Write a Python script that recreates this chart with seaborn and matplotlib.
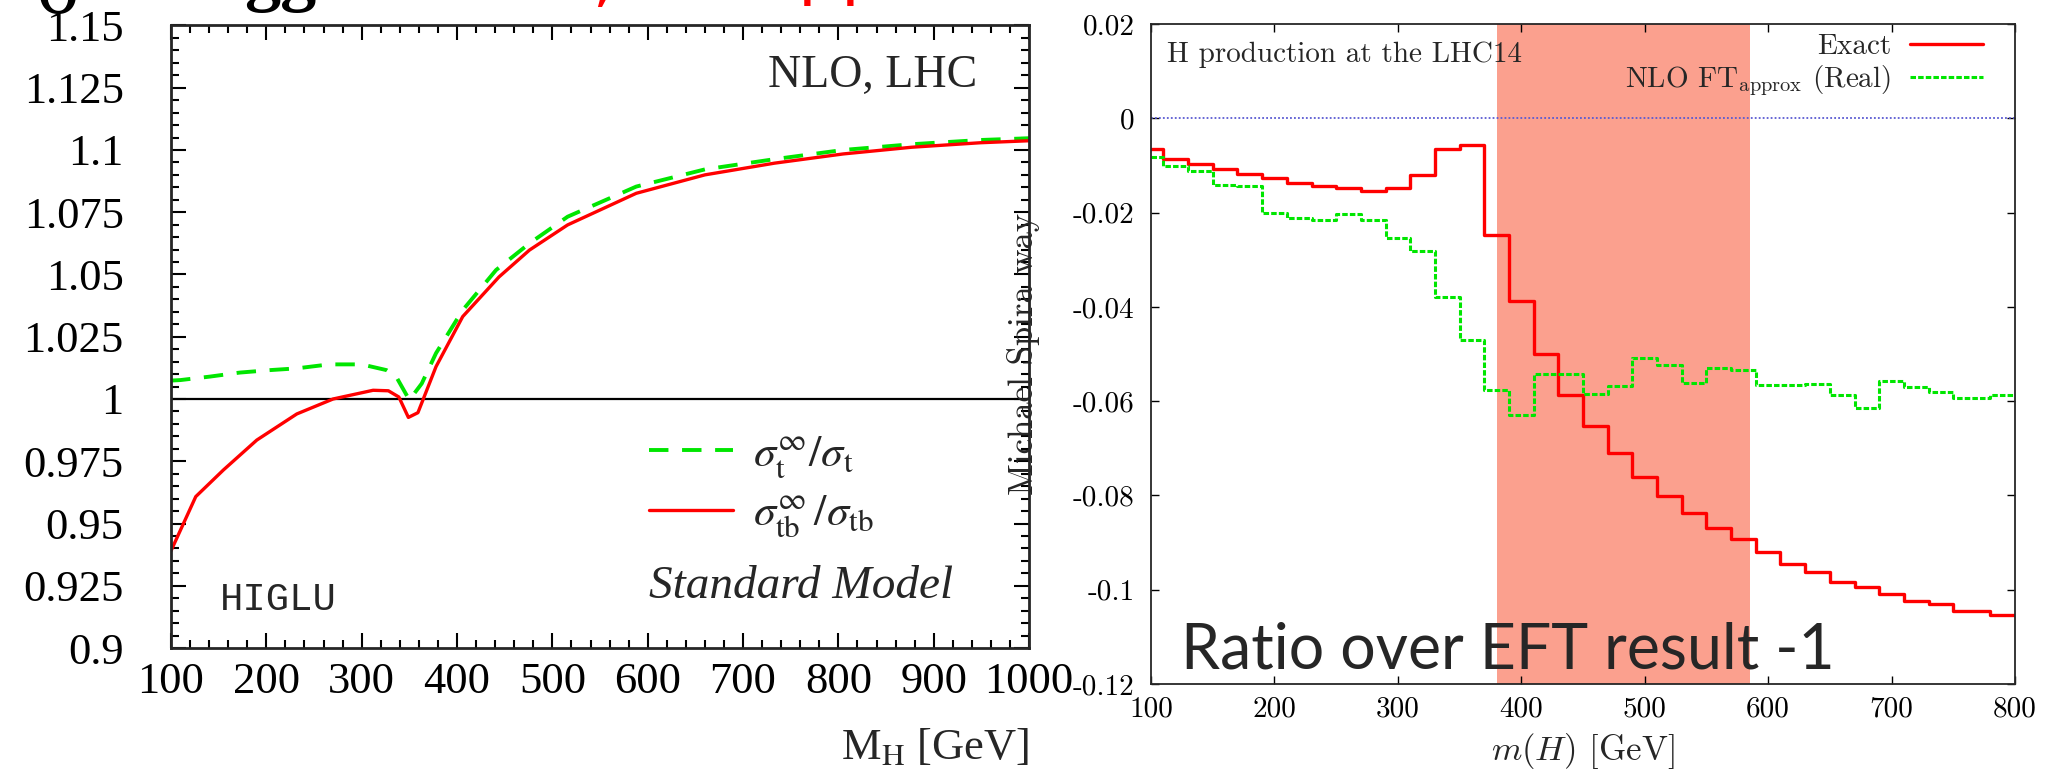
import seaborn as sns
import matplotlib.pyplot as plt
from matplotlib.font_manager import FontProperties
from matplotlib.ticker import MultipleLocator

# ----------------------------
# left panel: HIGLU, NLO ratios sigma(inf)/sigma
# ----------------------------
mh_t = [100, 110, 141, 172, 204, 232, 266, 300, 326, 336, 350, 363, 378, 406,
        441, 476, 516, 588, 660, 733, 805, 877, 949, 1000]
ratio_t = [1.0074, 1.0076, 1.0090, 1.0106, 1.0116, 1.0123, 1.0139, 1.0139, 1.0116,
           1.0091, 0.9996, 1.0062, 1.0184, 1.0357, 1.0518, 1.0625, 1.0732, 1.0853,
           1.0922, 1.0963, 1.1000, 1.1023, 1.1040, 1.1047]

mh_tb = [100, 126, 155, 190, 232, 270, 312, 328, 339, 349, 359, 378, 406, 444,
         476, 516, 588, 660, 733, 805, 877, 949, 1000]
ratio_tb = [0.9390, 0.9608, 0.9715, 0.9835, 0.9940, 1.0000, 1.0035, 1.0033, 1.0008,
            0.9926, 0.9945, 1.0130, 1.0331, 1.0490, 1.0598, 1.0699, 1.0826, 1.0900,
            1.0947, 1.0984, 1.1011, 1.1029, 1.1037]

left_xticks = [100, 200, 300, 400, 500, 600, 700, 800, 900, 1000]
left_yticks = [0.9, 0.925, 0.95, 0.975, 1.0, 1.025, 1.05, 1.075, 1.1, 1.125, 1.15]
left_ylabels = ["0.9", "0.925", "0.95", "0.975", "1", "1.025", "1.05", "1.075",
                "1.1", "1.125", "1.15"]

# ----------------------------
# right panel: ratio over EFT result - 1, binned in m(H)
# ----------------------------
bin_edges = [100, 110, 130, 150, 170, 190, 210, 230, 250, 270, 290, 310, 330, 350,
             370, 390, 410, 430, 450, 470, 490, 510, 530, 550, 570, 590, 610, 630,
             650, 670, 690, 710, 730, 750, 780, 800]
exact = [-0.0066, -0.0086, -0.0096, -0.0107, -0.0118, -0.0127, -0.0138, -0.0144,
         -0.0147, -0.0155, -0.0148, -0.0121, -0.0066, -0.0056, -0.0248, -0.0387,
         -0.0501, -0.0586, -0.0653, -0.0711, -0.0760, -0.0801, -0.0838, -0.0870,
         -0.0892, -0.0921, -0.0945, -0.0962, -0.0984, -0.0995, -0.1009, -0.1024,
         -0.1031, -0.1045, -0.1054]
ft_approx = [-0.0082, -0.0102, -0.0112, -0.0142, -0.0144, -0.0200, -0.0211, -0.0216,
             -0.0204, -0.0216, -0.0253, -0.0281, -0.0380, -0.0471, -0.0577, -0.0630,
             -0.0542, -0.0542, -0.0584, -0.0568, -0.0509, -0.0523, -0.0561, -0.0529,
             -0.0533, -0.0566, -0.0566, -0.0563, -0.0586, -0.0614, -0.0557, -0.0570,
             -0.0580, -0.0593, -0.0587]
band = [380, 585]

right_xticks = [100, 200, 300, 400, 500, 600, 700, 800]
right_yticks = [0.02, 0.0, -0.02, -0.04, -0.06, -0.08, -0.1, -0.12]
right_ylabels = ["0.02", "0", "-0.02", "-0.04", "-0.06", "-0.08", "-0.1", "-0.12"]

green = "#00e600"
red = "#ff0000"

sns.set_style("ticks")
plt.rcParams["font.family"] = ["Liberation Serif", "DejaVu Serif"]
plt.rcParams["mathtext.fontset"] = "stix"

fig = plt.figure(figsize=(20.5, 7.71), dpi=100)
ax1 = fig.add_axes([0.0834, 0.1595, 0.4186, 0.8075])
ax2 = fig.add_axes([0.5615, 0.1128, 0.4214, 0.8561])

# ---- left panel
ax1.axhline(1.0, color="black", lw=1.6, zorder=1)
sns.lineplot(x=mh_t, y=ratio_t, ax=ax1, color=green, lw=2.8, linestyle=(0, (5, 3.5)),
             estimator=None, sort=False, label=r"$\sigma^{\infty}_{\mathrm{t}}/\sigma_{\mathrm{t}}$")
sns.lineplot(x=mh_tb, y=ratio_tb, ax=ax1, color=red, lw=2.4,
             estimator=None, sort=False, label=r"$\sigma^{\infty}_{\mathrm{tb}}\,/\sigma_{\mathrm{tb}}$")
ax1.set_xlim(100, 1000)
ax1.set_ylim(0.9, 1.15)
ax1.set_xticks(left_xticks)
ax1.set_yticks(left_yticks, left_ylabels)
ax1.xaxis.set_minor_locator(MultipleLocator(20))
ax1.yaxis.set_minor_locator(MultipleLocator(0.005))
ax1.tick_params(which="both", direction="in", top=True, right=True, width=1.5,
                labelsize=32, colors="black")
ax1.tick_params(which="major", length=11)
ax1.tick_params(which="minor", length=5.5)
ax1.tick_params(axis="y", pad=34)
ax1.tick_params(axis="x", pad=10)
for s in ax1.spines.values():
    s.set_linewidth(2)
ax1.set_xlabel(r"M$_\mathrm{H}$ [GeV]", fontsize=32, loc="right", labelpad=18)
ax1.set_ylabel("")

ax1.legend(loc="upper left", bbox_to_anchor=(0.557, 0.344), frameon=False,
           borderpad=0, borderaxespad=0, handlelength=1.9, handletextpad=0.45,
           labelspacing=0.3,
           prop=FontProperties(family="Liberation Serif", size=32, math_fontfamily="stix"))
ax1.text(0.939, 0.901, "NLO, LHC", transform=ax1.transAxes, ha="right",
         va="baseline", fontsize=33)
ax1.text(0.557, 0.080, "Standard Model", transform=ax1.transAxes, ha="left",
         va="baseline", fontsize=34, style="italic")
ax1.text(0.057, 0.061, "HIGLU", transform=ax1.transAxes, ha="left",
         va="baseline", fontsize=28, family="Liberation Mono")

# ---- right panel
ax2.axvspan(band[0], band[1], color="#fba08e", lw=0, zorder=0)
ax2.axhline(0.0, color="#5a5ad2", lw=1.3, linestyle=(0, (1, 1.2)), zorder=1)
sns.lineplot(x=bin_edges, y=exact + exact[-1:], ax=ax2, color=red, lw=2.4,
             drawstyle="steps-post", estimator=None, sort=False, label="Exact")
sns.lineplot(x=bin_edges, y=ft_approx + ft_approx[-1:], ax=ax2, color=green, lw=2.2,
             linestyle=(0, (1.8, 0.7)), drawstyle="steps-post", estimator=None,
             sort=False, label=r"NLO FT$_{\mathrm{approx}}$ (Real)")
ax2.set_xlim(100, 800)
ax2.set_ylim(-0.12, 0.02)
ax2.set_xticks(right_xticks)
ax2.set_yticks(right_yticks, right_ylabels)
ax2.tick_params(direction="in", top=True, right=True, length=6, width=1,
                labelsize=21, colors="black")
ax2.tick_params(axis="y", pad=12)
ax2.tick_params(axis="x", pad=9)
for lbl in ax2.get_xticklabels() + ax2.get_yticklabels():
    lbl.set_fontfamily("cmr10")
for s in ax2.spines.values():
    s.set_linewidth(1.3)
ax2.set_xlabel(r"$m(H)$ [GeV]", fontsize=25, family="cmr10", math_fontfamily="cm",
               labelpad=6)
ax2.set_ylabel("Michael Spira way", fontsize=25, family="cmr10")
ax2.yaxis.set_label_coords(-0.128, 0.5)

ax2.legend(loc="upper right", bbox_to_anchor=(0.963, 0.985), frameon=False,
           markerfirst=False, borderpad=0, borderaxespad=0, handlelength=2.5,
           handletextpad=0.65, labelspacing=0.1,
           prop=FontProperties(family="cmr10", size=21, math_fontfamily="cm"))
ax2.text(0.0185, 0.942, "H production at the LHC14", transform=ax2.transAxes,
         ha="left", va="baseline", fontsize=21, family="cmr10")
ax2.text(0.035, 0.024, "Ratio over EFT result -1", transform=ax2.transAxes,
         ha="left", va="baseline", fontsize=45, family="Lato")

# cut-off slide title fragments at the very top
fig.text(0.018, 0.983, "σ", fontsize=60, color="black", va="baseline")
fig.text(0.119, 1.003, "gg", fontsize=52, color="black", va="baseline",
         fontweight="bold")
fig.text(0.289, 1.0, ",", fontsize=46, color=red, va="baseline",
         family="DejaVu Sans")
fig.text(0.389, 1.010, "pp", fontsize=50, color=red, va="baseline",
         family="DejaVu Sans")

fig.savefig("out.png", dpi=100)
